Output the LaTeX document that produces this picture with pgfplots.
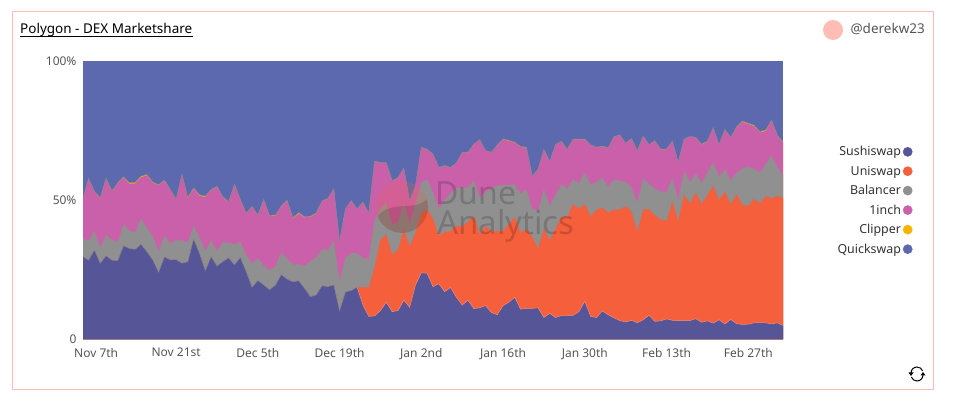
\documentclass[border=0pt]{standalone}
\usepackage{pgfplots}
\usepackage{pgfplotstable}
\usepackage{fontspec}
\pgfplotsset{compat=1.18}
\setmainfont{Noto Sans}
\definecolor{qs}{HTML}{5C69AE}
\definecolor{ss}{HTML}{565597}
\definecolor{un}{HTML}{F55F3C}
\definecolor{ba}{HTML}{909090}
\definecolor{oi}{HTML}{CB60AA}
\definecolor{cl}{HTML}{F4B400}
\definecolor{frame}{HTML}{FFBDB5}
\definecolor{txt}{HTML}{555555}
% cumulative tops of the stacked shares, in percent
\pgfplotstableread{
i s u b p c
0 29.8 29.8 36.4 50.1 50.3
1 28.5 28.5 35.3 57.7 57.9
2 32.2 32.2 39.0 53.1 53.3
3 27.4 27.4 33.1 50.7 50.9
4 30.1 30.1 37.6 57.7 57.9
5 28.5 28.5 35.8 53.2 53.4
6 28.3 28.3 34.9 56.1 56.3
7 33.7 33.7 41.5 58.3 58.5
8 32.7 32.7 39.1 55.9 56.3
9 32.4 32.4 38.5 56.1 56.5
10 34.2 34.2 43.5 58.3 58.7
11 31.5 31.5 40.2 59.0 59.3
12 28.6 28.6 37.0 56.3 56.6
13 24.2 24.2 31.7 55.4 55.6
14 29.7 29.7 37.2 57.1 57.3
15 28.6 28.6 34.6 53.7 53.9
16 28.7 28.7 35.6 50.2 50.4
17 27.4 27.4 35.6 59.2 59.4
18 27.9 27.9 34.8 50.7 51.1
19 36.1 36.1 40.9 54.2 54.5
20 31.0 31.0 36.6 51.6 52.0
21 24.8 24.8 31.9 51.2 51.5
22 29.8 29.8 35.6 53.7 53.9
23 26.4 26.4 31.8 54.8 55.0
24 28.0 28.0 34.8 51.1 51.3
25 29.3 29.3 34.9 49.3 49.5
26 26.9 26.9 34.1 55.6 55.8
27 29.5 29.5 35.2 50.1 50.3
28 24.4 24.4 30.4 45.2 45.4
29 18.8 18.8 27.4 47.6 47.8
30 21.2 21.2 29.2 44.5 44.7
31 19.6 19.6 26.6 50.1 50.3
32 17.9 17.9 24.9 44.4 44.6
33 19.5 19.5 26.2 44.5 44.7
34 23.3 23.3 31.2 47.7 47.9
35 21.7 21.7 29.1 49.8 50.0
36 20.7 20.7 27.0 43.5 43.8
37 21.1 21.1 27.0 45.2 45.6
38 18.4 18.4 26.4 43.9 44.1
39 15.4 15.4 28.2 44.1 44.3
40 16.0 16.0 29.5 45.2 45.5
41 19.3 19.3 32.4 49.6 49.8
42 19.0 19.0 32.1 50.5 50.7
43 19.6 19.6 35.6 54.1 54.2
44 10.4 10.4 20.8 35.2 35.3
45 17.1 17.1 29.2 46.9 47.0
46 17.6 17.6 31.0 49.8 49.9
47 18.8 18.8 31.0 46.8 46.9
48 12.4 18.8 29.3 49.3 49.4
49 8.3 18.8 28.9 45.3 45.4
50 8.5 26.2 43.2 64.0 64.1
51 10.4 36.0 47.1 63.5 63.6
52 13.4 37.8 49.2 63.4 63.5
53 10.0 30.6 41.0 56.9 57.0
54 10.4 32.4 42.3 58.1 58.2
55 14.1 39.6 48.9 61.5 61.6
56 11.6 33.6 41.4 49.6 49.7
57 19.6 38.4 48.9 55.1 55.2
58 24.0 45.3 56.3 68.9 69.1
59 23.8 46.8 57.5 68.1 68.3
60 19.0 43.5 52.8 66.5 66.6
61 20.0 37.4 47.0 61.8 61.9
62 17.2 38.6 50.1 62.4 62.5
63 18.7 39.0 52.5 61.7 61.8
64 15.2 40.9 54.3 63.3 63.4
65 12.4 40.6 54.5 67.1 67.2
66 14.1 42.3 54.7 67.2 67.3
67 11.1 44.5 57.1 70.1 70.2
68 11.4 37.8 51.0 71.7 71.8
69 12.2 40.8 53.1 67.8 67.9
70 9.7 38.9 54.3 67.2 67.3
71 8.9 38.9 55.3 69.6 69.8
72 12.2 39.0 55.4 71.9 72.1
73 13.4 41.5 55.5 71.4 71.6
74 15.2 44.1 55.7 70.7 70.9
75 10.9 38.4 52.4 69.1 69.3
76 11.2 39.6 53.9 69.0 69.1
77 11.2 37.0 47.0 58.6 58.7
78 11.4 32.7 46.3 61.1 61.2
79 7.9 39.8 53.9 68.1 68.3
80 9.4 35.8 48.0 63.8 64.0
81 7.9 39.8 51.9 70.0 70.1
82 8.6 44.1 55.7 71.1 71.2
83 8.7 44.1 54.2 68.3 68.4
84 8.7 48.7 57.5 71.9 72.0
85 10.0 47.1 56.1 71.9 72.0
86 13.8 48.7 60.0 71.9 72.0
87 8.3 44.4 55.6 69.9 70.0
88 7.9 46.5 56.6 69.0 69.1
89 10.3 47.5 58.0 69.4 69.5
90 8.9 45.6 54.9 68.8 68.9
91 7.8 46.7 57.5 72.8 72.9
92 6.8 46.7 56.9 73.4 73.5
93 6.3 48.0 56.6 70.5 70.6
94 6.9 45.9 54.7 72.1 72.2
95 6.0 39.0 49.2 67.7 67.8
96 7.1 46.8 57.9 73.0 73.1
97 8.7 46.8 55.9 69.9 70.0
98 6.5 44.7 54.2 71.3 71.4
99 6.7 43.2 53.2 68.3 68.4
100 7.4 42.7 53.0 68.3 68.4
101 6.9 49.8 57.9 71.2 71.3
102 6.8 42.7 50.2 63.6 63.7
103 6.8 52.2 60.5 71.9 72.0
104 6.8 48.9 56.6 72.8 72.9
105 7.5 52.8 59.7 72.6 72.7
106 6.2 48.8 56.3 70.0 70.2
107 6.7 51.9 60.0 71.1 71.3
108 5.9 55.3 63.6 76.0 76.1
109 7.1 50.2 58.5 70.0 70.1
110 5.6 53.2 61.1 75.4 75.5
111 7.2 48.6 57.2 72.5 72.6
112 5.7 52.3 59.9 76.2 76.4
113 5.4 48.3 61.5 78.2 78.5
114 5.5 48.1 62.0 77.4 77.7
115 6.0 50.5 61.4 76.7 77.0
116 6.1 48.9 60.0 74.4 74.7
117 6.0 51.6 63.0 74.9 75.3
118 5.6 50.7 66.1 78.6 78.8
119 6.0 51.7 61.8 73.1 73.3
120 5.0 50.8 58.7 70.7 70.9
}\shares
\begin{document}
\begin{tikzpicture}[x=1pt,y=1pt]
\path (0,0) rectangle (954,403);
\draw[frame,line width=1pt] (12.5,13) rectangle (933.5,391);
\begin{axis}[
  at={(83pt,63.5pt)},anchor=south west,
  scale only axis,width=700pt,height=278.3pt,
  xmin=0.05,xmax=119.95,ymin=0,ymax=100,
  axis line style={draw=none},
  major tick length=0pt,
  xtick={2.3,16,30,44,58,72,86,100,114},
  xticklabels={Nov 7th,Nov 21st,Dec 5th,Dec 19th,Jan 2nd,Jan 16th,Jan 30th,Feb 13th,Feb 27th},
  ytick={0,50,100},
  yticklabels={0,50\%,100\%},
  tick label style={font=\fontsize{12}{14}\selectfont,text=txt},
  xticklabel style={yshift=-5pt},
  yticklabel style={xshift=-3pt},
  legend plot pos=right,
  legend cell align=right,
  legend style={draw=none,fill=none,at={(830pt,139pt)},anchor=east,
    font=\fontsize{12.4}{14}\selectfont,text=txt!60!black,
    row sep=4.6pt,inner sep=0pt,/tikz/every even column/.append style={column sep=0pt}},
  legend image code/.code={\fill[#1] (0.85em,0) circle (4.6pt);},
]
\addplot[fill=qs,draw=none,forget plot] coordinates {(0,100)(120,100)} \closedcycle;
\addplot[fill=cl,draw=none,forget plot] table[x=i,y=c] {\shares} \closedcycle;
\addplot[fill=oi,draw=none,forget plot] table[x=i,y=p] {\shares} \closedcycle;
\addplot[fill=ba,draw=none,forget plot] table[x=i,y=b] {\shares} \closedcycle;
\addplot[fill=un,draw=none,forget plot] table[x=i,y=u] {\shares} \closedcycle;
\addplot[fill=ss,draw=none,forget plot] table[x=i,y=s] {\shares} \closedcycle;
\addplot[draw=ba!70!qs,line width=.5pt,forget plot] table[x=i,y=c] {\shares};
\addplot[draw=ba!60!oi,line width=.5pt,forget plot] table[x=i,y=b] {\shares};
\addplot[draw=ba!70!un,line width=.4pt,forget plot,restrict x to domain=47:120] table[x=i,y=u] {\shares};
\addplot[draw=ba!80!ss,line width=.5pt,forget plot,restrict x to domain=0:47] table[x=i,y=s] {\shares};
\addplot[draw=un!70!white,line width=.5pt,forget plot,restrict x to domain=47:120] table[x=i,y=s] {\shares};
\addlegendimage{ss}\addlegendentry{Sushiswap}
\addlegendimage{un}\addlegendentry{Uniswap}
\addlegendimage{ba}\addlegendentry{Balancer}
\addlegendimage{oi}\addlegendentry{1inch}
\addlegendimage{cl}\addlegendentry{Clipper}
\addlegendimage{qs}\addlegendentry{Quickswap}
\end{axis}
% watermark
\begin{scope}
\fill[un,opacity=.2] (402,196) circle (26);
\begin{scope}
\clip (402,196) circle (26);
\fill[black,opacity=.13] (376,186) .. controls (395,205) and (415,190) .. (428,205) -- (428,165) -- (376,165) -- cycle;
\end{scope}
\node[anchor=base west,inner sep=0,text=black,opacity=.17,font=\bfseries\fontsize{32}{35}\selectfont] at (435,198) {Dune};
\node[anchor=base west,inner sep=0,text=black,opacity=.17,font=\fontsize{33}{35}\selectfont] at (437,168) {Analytics};
\end{scope}
% header
\node[anchor=base west,inner sep=0,font=\fontsize{13.5}{15}\selectfont,text=black] at (20,369) {Polygon - DEX Marketshare};
\draw[black,line width=.9pt] (20,366.5) -- (193,366.5);
\fill[frame] (833,373) circle (10);
\node[anchor=base east,inner sep=0,font=\fontsize{13.5}{15}\selectfont,text=txt] at (925,369) {@derekw23};
% refresh icon
\draw[black,line width=1pt] (911,30) arc (180:20:6);
\draw[black,line width=1pt] (923,28) arc (0:-160:6);
\fill[black] (908.5,30.5) -- (913.5,30.5) -- (911,27) -- cycle;
\fill[black] (920.5,27.5) -- (925.5,27.5) -- (923,31) -- cycle;
\end{tikzpicture}
\end{document}
